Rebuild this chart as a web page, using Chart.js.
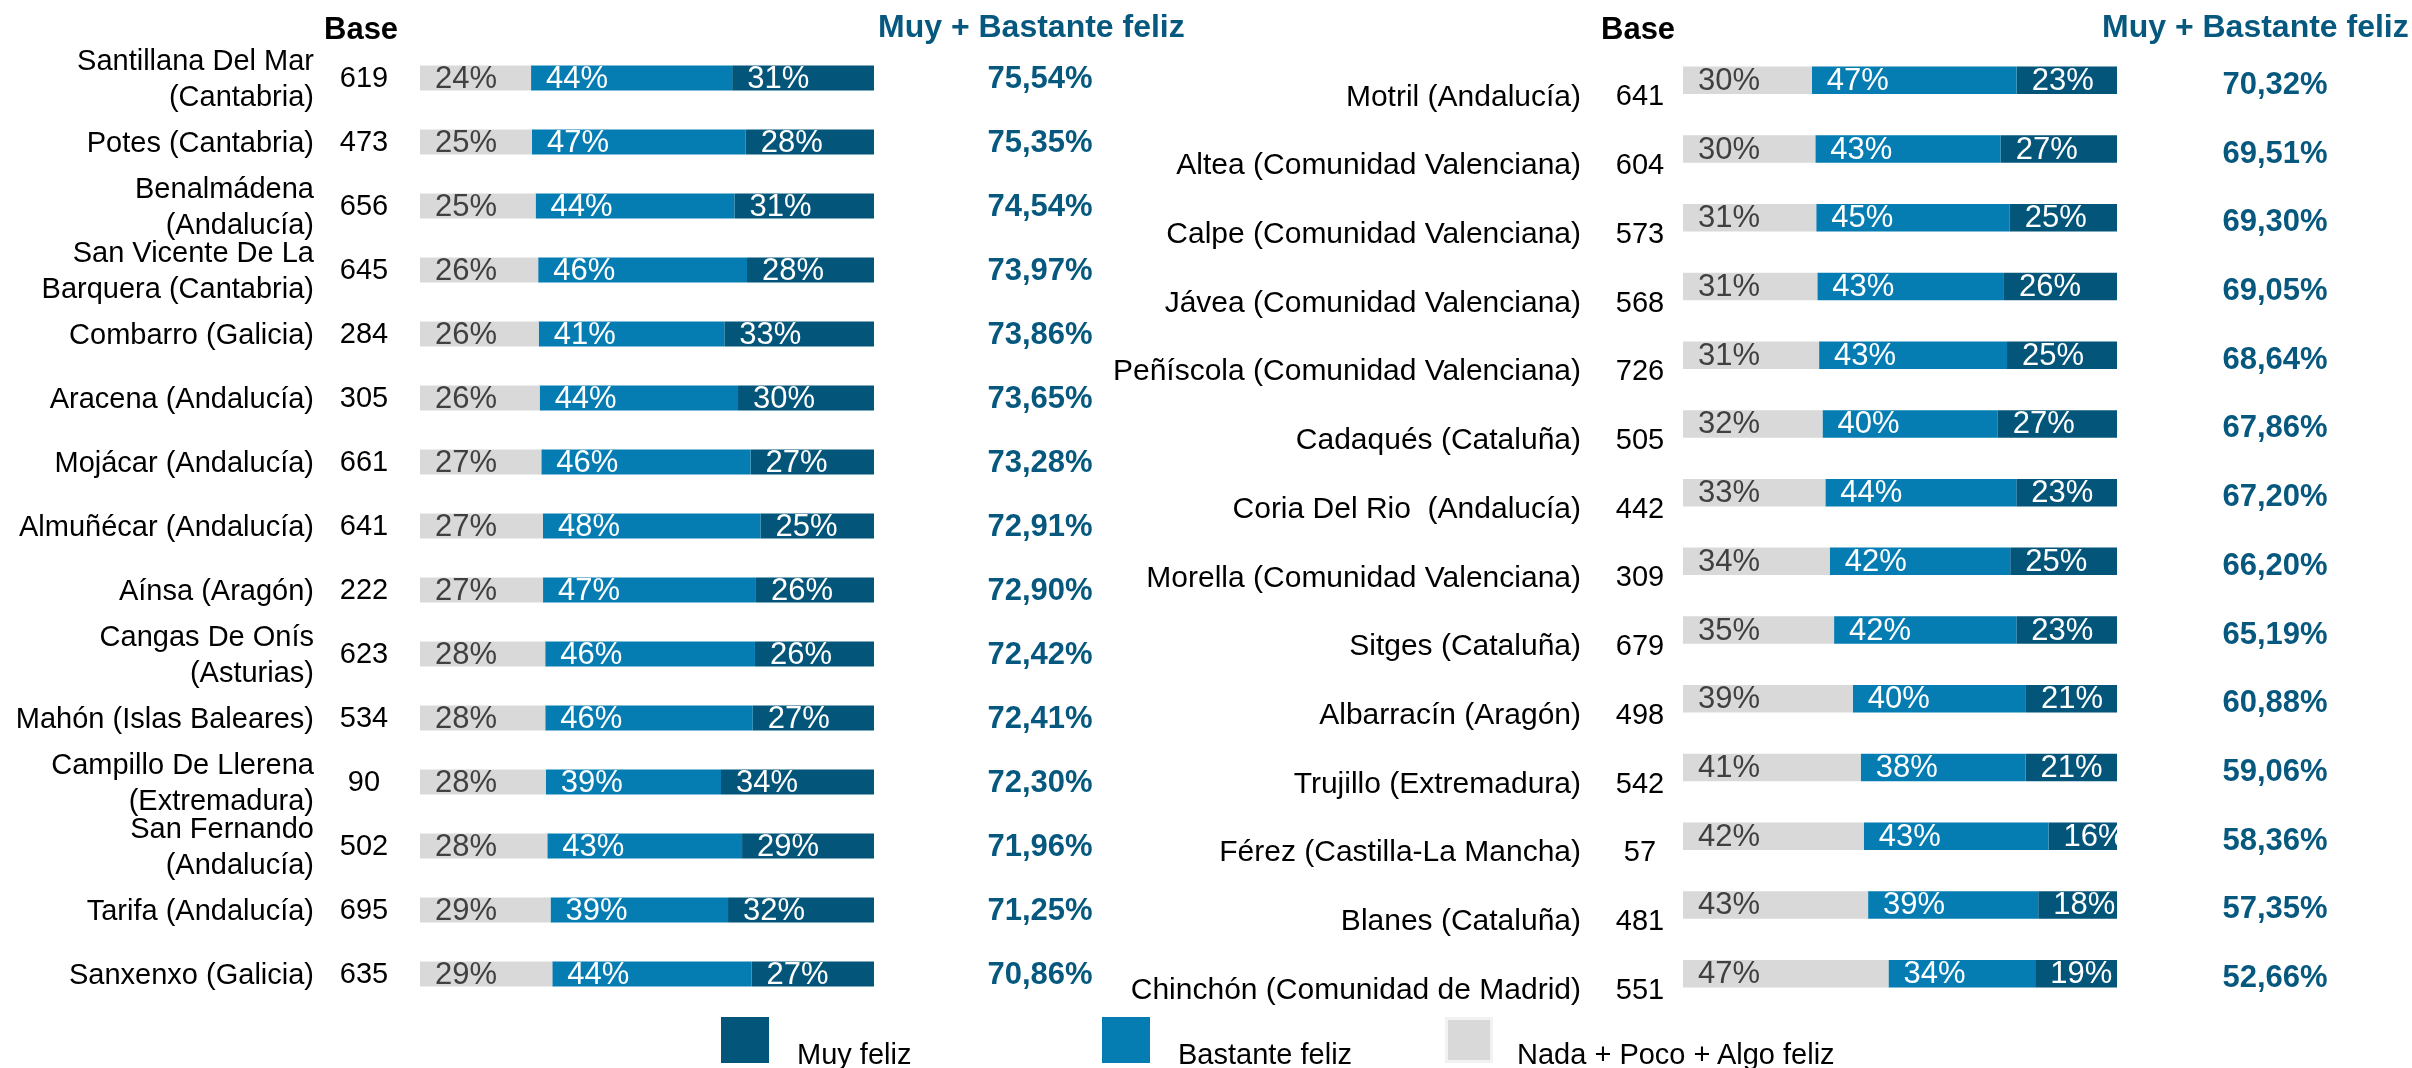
<!DOCTYPE html>
<html lang="es">
<head>
<meta charset="utf-8">
<title>Muy + Bastante feliz</title>
<script src="https://cdn.jsdelivr.net/npm/chart.js@4.4.1/dist/chart.umd.min.js"></script>
<style>
    html, body { margin: 0; padding: 0; background: #ffffff; }
    body { width: 2412px; height: 1068px; position: relative; overflow: hidden; font-family: 'Liberation Sans', Arial, sans-serif; }
    canvas { position: absolute; left: 0; top: 0; }
    .legend-item { position: absolute; top: 1017px; height: 46px; }
    .legend-box { position: absolute; left: 0; top: 0; width: 48px; height: 46px; }
    .legend-text { position: absolute; top: 21px; white-space: nowrap; font-size: 29px; color: #000; }
</style>
</head>
<body>
<canvas id="left-chart" width="2412" height="1068"></canvas>
<canvas id="right-chart" width="2412" height="1068"></canvas>

<div class="legend-item" style="left:721px">
    <div class="legend-box" style="background:#03567a"></div>
    <div class="legend-text" style="left:76px">Muy feliz</div>
</div>
<div class="legend-item" style="left:1102px">
    <div class="legend-box" style="background:#067db2"></div>
    <div class="legend-text" style="left:76px">Bastante feliz</div>
</div>
<div class="legend-item" style="left:1445px">
    <div class="legend-box" style="background:#d9d9d9; box-shadow: 0 0 0 3px #f2f2f2 inset"></div>
    <div class="legend-text" style="left:72px">Nada + Poco + Algo feliz</div>
</div>

<script>
// Left panel
const leftLabels = [
    ['Santillana Del Mar', '(Cantabria)'],
    'Potes (Cantabria)',
    ['Benalmádena', '(Andalucía)'],
    ['San Vicente De La', 'Barquera (Cantabria)'],
    'Combarro (Galicia)',
    'Aracena (Andalucía)',
    'Mojácar (Andalucía)',
    'Almuñécar (Andalucía)',
    'Aínsa (Aragón)',
    ['Cangas De Onís', '(Asturias)'],
    'Mahón (Islas Baleares)',
    ['Campillo De Llerena', '(Extremadura)'],
    ['San Fernando', '(Andalucía)'],
    'Tarifa (Andalucía)',
    'Sanxenxo (Galicia)'
];
const leftBase = [619, 473, 656, 645, 284, 305, 661, 641, 222, 623, 534, 90, 502, 695, 635];
const leftNada = [24.46, 24.65, 25.46, 26.03, 26.14, 26.35, 26.72, 27.09, 27.10, 27.58, 27.59, 27.70, 28.04, 28.75, 29.14];
const leftBastante = [44.3, 47.1, 43.8, 46.0, 40.9, 43.7, 46.1, 47.9, 46.9, 46.2, 45.7, 38.6, 42.9, 39.1, 43.9];
const leftMuy = [31.24, 28.25, 30.74, 27.97, 32.96, 29.95, 27.18, 25.01, 26.0, 26.22, 26.71, 33.7, 29.06, 32.15, 26.96];
const leftTotal = ['75,54%', '75,35%', '74,54%', '73,97%', '73,86%', '73,65%', '73,28%', '72,91%', '72,90%', '72,42%', '72,41%', '72,30%', '71,96%', '71,25%', '70,86%'];

// Right panel
const rightLabels = [
    'Motril (Andalucía)',
    'Altea (Comunidad Valenciana)',
    'Calpe (Comunidad Valenciana)',
    'Jávea (Comunidad Valenciana)',
    'Peñíscola (Comunidad Valenciana)',
    'Cadaqués (Cataluña)',
    'Coria Del Rio  (Andalucía)',
    'Morella (Comunidad Valenciana)',
    'Sitges (Cataluña)',
    'Albarracín (Aragón)',
    'Trujillo (Extremadura)',
    'Férez (Castilla-La Mancha)',
    'Blanes (Cataluña)',
    'Chinchón (Comunidad de Madrid)'
];
const rightBase = [641, 604, 573, 568, 726, 505, 442, 309, 679, 498, 542, 57, 481, 551];
const rightNada = [29.68, 30.49, 30.70, 30.95, 31.36, 32.14, 32.80, 33.80, 34.81, 39.12, 40.94, 41.64, 42.65, 47.34];
const rightBastante = [47.2, 42.7, 44.6, 43.0, 43.3, 40.4, 44.0, 41.6, 42.0, 39.9, 38.0, 42.6, 39.2, 33.8];
const rightMuy = [23.12, 26.81, 24.7, 26.05, 25.34, 27.46, 23.2, 24.6, 23.19, 20.98, 21.06, 15.76, 18.15, 18.86];
const rightTotal = ['70,32%', '69,51%', '69,30%', '69,05%', '68,64%', '67,86%', '67,20%', '66,20%', '65,19%', '60,88%', '59,06%', '58,36%', '57,35%', '52,66%'];

const FONT = "'Liberation Sans', Arial, sans-serif";
const GRAY = '#d9d9d9';
const BLUE = '#067db2';
const DARK = '#03567a';
const TEAL_TEXT = '#07587e';

Chart.defaults.font.family = FONT;
Chart.defaults.animation = false;

// draws segment labels, base column, totals and headers
const tablePlugin = {
    id: 'tablePlugin',
    afterDatasetsDraw(chart, args, opts) {
        const ctx = chart.ctx;
        const area = chart.chartArea;
        const yScale = chart.scales.y;

        // segment labels, clipped to the bar area
        ctx.save();
        ctx.beginPath();
        ctx.rect(area.left, 0, area.right - area.left, chart.height);
        ctx.clip();
        ctx.font = '31px ' + FONT;
        ctx.textBaseline = 'middle';
        ctx.textAlign = 'left';
        chart.data.datasets.forEach((ds, di) => {
            const meta = chart.getDatasetMeta(di);
            meta.data.forEach((bar, i) => {
                ctx.fillStyle = di === 0 ? '#404040' : '#ffffff';
                const start = Math.min(bar.x, bar.base);
                ctx.fillText(Math.round(ds.data[i]) + '%', start + 15, bar.y + 1);
            });
        });
        ctx.restore();

        ctx.save();
        ctx.textBaseline = 'middle';
        ctx.textAlign = 'center';
        ctx.fillStyle = '#000000';
        ctx.font = '29px ' + FONT;
        opts.base.forEach((b, i) => {
            ctx.fillText(String(b), opts.baseX, yScale.getPixelForValue(i) + opts.baseOffset);
        });

        ctx.fillStyle = TEAL_TEXT;
        ctx.font = 'bold 31px ' + FONT;
        opts.totals.forEach((t, i) => {
            ctx.fillText(t, opts.totalX, yScale.getPixelForValue(i) + opts.totalOffset);
        });

        // headers
        ctx.textBaseline = 'alphabetic';
        ctx.textAlign = 'left';
        ctx.fillStyle = '#000000';
        ctx.font = 'bold 31px ' + FONT;
        ctx.fillText('Base', opts.baseHeaderX, 39);
        ctx.fillStyle = TEAL_TEXT;
        ctx.font = 'bold 32px ' + FONT;
        ctx.fillText('Muy + Bastante feliz', opts.totalHeaderX, 37);
        ctx.restore();
    }
};

function makeDatasets(nada, bastante, muy, thickness) {
    const common = { categoryPercentage: 1, barPercentage: thickness, borderWidth: 0, stack: 's' };
    return [
        Object.assign({ label: 'Nada + Poco + Algo feliz', data: nada, backgroundColor: GRAY }, common),
        Object.assign({ label: 'Bastante feliz', data: bastante, backgroundColor: BLUE }, common),
        Object.assign({ label: 'Muy feliz', data: muy, backgroundColor: DARK }, common)
    ];
}

function createPanel(canvasId, labels, datasets, cfg) {
    return new Chart(document.getElementById(canvasId), {
        type: 'bar',
        data: { labels: labels, datasets: datasets },
        options: {
            indexAxis: 'y',
            responsive: false,
            maintainAspectRatio: false,
            layout: { padding: cfg.padding },
            plugins: {
                legend: { display: false },
                tooltip: { enabled: false },
                tablePlugin: cfg.table
            },
            scales: {
                x: { display: false, stacked: true, min: 0, max: 100 },
                y: {
                    stacked: true,
                    grid: { display: false },
                    border: { display: false },
                    ticks: {
                        color: '#000000',
                        padding: cfg.tickPadding,
                        labelOffset: cfg.labelOffset,
                        autoSkip: false,
                        font: { size: cfg.labelSize, lineHeight: 1.22 }
                    },
                    afterFit: (scale) => {
                        // fixed axis width, and no extra top/bottom room taken from the plot
                        scale.width = cfg.axisWidth;
                        scale.paddingTop = 0;
                        scale.paddingBottom = 0;
                    }
                }
            }
        },
        plugins: [tablePlugin]
    });
}

createPanel('left-chart', leftLabels, makeDatasets(leftNada, leftBastante, leftMuy, 0.39), {
    padding: { left: 0, right: 2412 - 874, top: 46, bottom: 1068 - 1006 },
    axisWidth: 420,
    tickPadding: 98,
    labelOffset: 2,
    labelSize: 29,
    table: {
        base: leftBase, baseX: 364, baseOffset: 1,
        totals: leftTotal, totalX: 1040, totalOffset: 1,
        baseHeaderX: 324, totalHeaderX: 878
    }
});

createPanel('right-chart', rightLabels, makeDatasets(rightNada, rightBastante, rightMuy, 0.40), {
    padding: { left: 1100, right: 2412 - 2117, top: 46, bottom: 1068 - 1008 },
    axisWidth: 583,
    tickPadding: 94,
    labelOffset: 17,
    labelSize: 30,
    table: {
        base: rightBase, baseX: 1640, baseOffset: 17,
        totals: rightTotal, totalX: 2275, totalOffset: 5,
        baseHeaderX: 1601, totalHeaderX: 2102
    }
});
</script>
</body>
</html>
